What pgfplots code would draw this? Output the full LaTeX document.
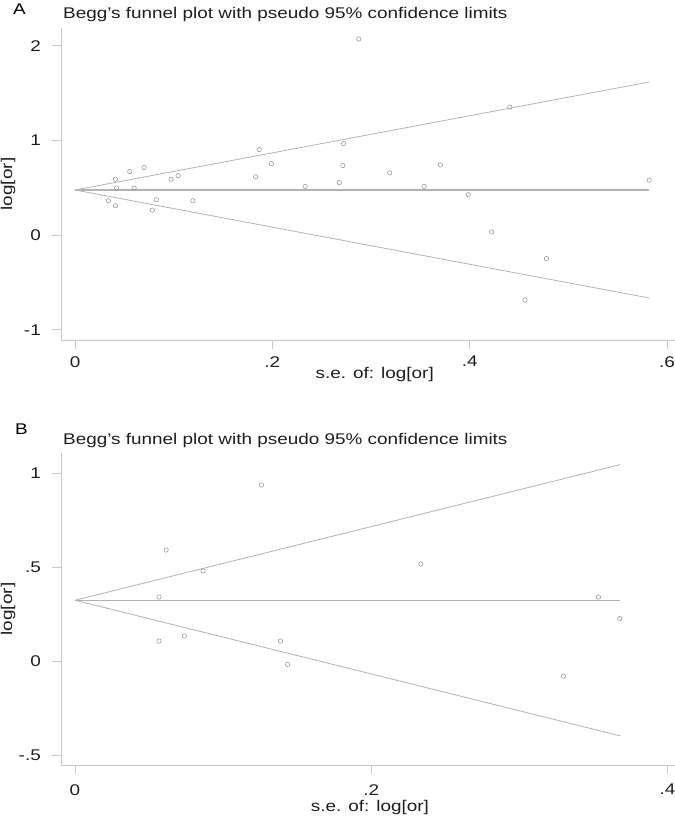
\documentclass[border=0pt]{standalone}
\usepackage{fontspec}
\setmainfont{Liberation Sans}[FakeStretch=1.22]
\usepackage{pgfplots}
\pgfplotsset{compat=1.18}
\definecolor{fun}{RGB}{178,178,178}
\definecolor{axc}{RGB}{200,200,200}
\definecolor{mk}{RGB}{140,140,140}
\definecolor{txt}{RGB}{30,30,30}
\pgfplotsset{funnel/.style={
  scale only axis, width=614pt, height=312pt, anchor=south west,
  axis x line=bottom, axis y line=left,
  axis line style={-, draw=axc, line width=0.8pt},
  every tick/.style={draw=axc, line width=0.8pt},
  tick align=outside, major tick length=9pt,
  /pgf/number format/assume math mode=true,
  ticklabel style={font=\fontsize{15.5}{18}\selectfont, text=txt, inner sep=0pt},
  yticklabel style={anchor=east, xshift=-11pt},
  label style={font=\fontsize{15.5}{18}\selectfont, text=txt, inner sep=0pt},
  xlabel={s.e. of: log[or]}, ylabel={log[or]},
  clip=false,
}}
\begin{document}
\begin{tikzpicture}
\useasboundingbox (0pt,0pt) rectangle (675pt,817pt);
% Panel A
\begin{axis}[funnel, at={(61pt,477pt)},
  xmin=-0.0142, xmax=0.608, ymin=-1.109, ymax=2.186,
  xtick={0,0.2,0.4,0.6}, xticklabels={0,.2,.4,.6},
  ytick={-1,0,1,2}, yticklabels={-1,0,1,2},
  xticklabel style={anchor=north, yshift=-7pt},
  xlabel style={at={(axis description cs:0.511,-0.112)}, anchor=center},
  ylabel style={at={(axis description cs:-0.0863,0.5)}, anchor=center},
]
\addplot[fun, line width=0.8pt] coordinates {(0,0.475) (0.582,1.616)};
\addplot[fun, line width=1.2pt] coordinates {(0,0.475) (0.582,0.475)};
\addplot[fun, line width=0.8pt] coordinates {(0,0.475) (0.582,-0.666)};
\addplot[only marks, mark=o, mark size=2.2pt, draw=mk, mark options={line width=0.5pt}] table {
x y
0.1866 0.902
0.2722 0.965
0.1990 0.754
0.2714 0.733
0.3703 0.740
0.3189 0.656
0.0555 0.670
0.0700 0.712
0.0410 0.589
0.0973 0.589
0.1045 0.628
0.1830 0.614
0.5818 0.579
0.0422 0.495
0.0599 0.495
0.2332 0.512
0.2678 0.554
0.3538 0.512
0.3985 0.425
0.0338 0.361
0.0410 0.309
0.0824 0.372
0.1194 0.361
0.0784 0.263
0.4222 0.032
0.4777 -0.249
0.2875 2.070
0.4407 1.350
0.4560 -0.687
};
\end{axis}
% Panel B
\begin{axis}[funnel, at={(61pt,52pt)},
  xmin=-0.00945, xmax=0.405, ymin=-0.553, ymax=1.106,
  xtick={0,0.2,0.4}, xticklabels={0,.2,.4},
  ytick={-0.5,0,0.5,1}, yticklabels={-.5,0,.5,1},
  xticklabel style={anchor=north, yshift=-10pt},
  xlabel style={at={(axis description cs:0.503,-0.135)}, anchor=center},
  ylabel style={at={(axis description cs:-0.0863,0.5)}, anchor=center},
]
\addplot[fun, line width=0.8pt] coordinates {(0,0.323) (0.368,1.044)};
\addplot[fun, line width=0.8pt] coordinates {(0,0.323) (0.368,0.323)};
\addplot[fun, line width=0.8pt] coordinates {(0,0.323) (0.368,-0.398)};
\addplot[only marks, mark=o, mark size=2.2pt, draw=mk, mark options={line width=0.5pt}] table {
x y
0.1258 0.936
0.0615 0.590
0.2334 0.516
0.0864 0.479
0.0567 0.340
0.3533 0.340
0.3677 0.225
0.0567 0.106
0.0738 0.133
0.1387 0.106
0.1435 -0.018
0.3297 -0.081
};
\end{axis}
\node[anchor=base west, inner sep=0pt, text=txt, font=\fontsize{15.5}{18}\selectfont] at (63pt,798pt) {Begg's funnel plot with pseudo 95\% confidence limits};
\node[anchor=base west, inner sep=0pt, text=txt, font=\fontsize{15.5}{18}\selectfont] at (63pt,372.7pt) {Begg's funnel plot with pseudo 95\% confidence limits};
\node[anchor=base west, inner sep=0pt, text=black, font=\fontsize{15.5}{18}\selectfont] at (13pt,802pt) {A};
\node[anchor=base west, inner sep=0pt, text=black, font=\fontsize{15.5}{18}\selectfont] at (15pt,382pt) {B};
\end{tikzpicture}
\end{document}
